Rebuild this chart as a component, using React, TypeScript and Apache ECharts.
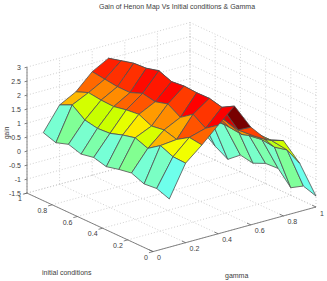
import React, { useEffect, useRef } from "react";
import * as echarts from "echarts";

const titleText = "Gain of Henon Map Vs Initial conditions & Gamma";
const gammaTicks = [0, 0.2, 0.4, 0.6, 0.8, 1];
const initTicks = [0, 0.2, 0.4, 0.6, 0.8, 1];
const gainTicks = [-1.5, -1, -0.5, 0, 0.5, 1, 1.5, 2, 2.5, 3];
const gammaValues = [0.1, 0.2, 0.3, 0.4, 0.5, 0.6, 0.7, 0.8, 0.9, 1];
const initValues = [0, 0.1, 0.2, 0.3, 0.4, 0.5, 0.6, 0.7, 0.8, 0.9, 1];

const gainAtGamma01 = [0.22, 0.385, 0.34, 0.52, 0.44, 0.33, 0.45, 0.36, 0.5, 0.35, 0.5];
const gainAtGamma02 = [1.34, 1.36, 1.55, 1.24, 1.41, 1.3, 1.15, 1.12, 1.21, 1.54, 1.33];
const gainAtGamma03 = [1.83, 1.89, 1.61, 1.74, 1.67, 1.88, 1.83, 1.74, 1.76, 1.82, 1.64];
const gainAtGamma04 = [2.38, 2.06, 2.35, 2.03, 2.3, 2.17, 2.26, 2.08, 2.08, 2.14, 2.2];
const gainAtGamma05 = [2.9, 2.65, 2.76, 2.75, 2.78, 2.73, 2.91, 2.79, 2.76, 2.64, 2.52];
const gainAtGamma06 = [1.99, 1.68, 1.8, 1.9, 1.85, 1.9, 1.8, 1.9, 1.8, 1.85, 1.8];
const gainAtGamma07 = [1.37, 1.3, 1.15, 1.2, 1.25, 1.2, 1.1, 1.2, 1.1, 1.2, 1.1];
const gainAtGamma08 = [1.19, 1.0, 1.0, 1.05, 1.1, 1.0, 1.1, 1.1, 1.0, 1.0, 1.0];
const gainAtGamma09 = [0.22, 0.49, 0.38, 0.44, 0.37, 0.45, 0.36, 0.28, 0.3, 0.4, 0.3];
const gainAtGamma10 = [-1.11, -0.96, -1.23, -0.75, -0.78, -0.98, -0.9, -1.26, -1.0, -0.67, -0.4];
const gainRows = [
  gainAtGamma01, gainAtGamma02, gainAtGamma03, gainAtGamma04, gainAtGamma05,
  gainAtGamma06, gainAtGamma07, gainAtGamma08, gainAtGamma09, gainAtGamma10,
];

const colorStops: [number, number[]][] = [
  [-1.3, [110, 255, 235]],
  [0.22, [110, 255, 235]],
  [0.35, [120, 255, 210]],
  [0.5, [128, 255, 150]],
  [1.1, [196, 255, 0]],
  [1.25, [216, 255, 0]],
  [1.35, [244, 255, 0]],
  [1.42, [255, 230, 0]],
  [1.55, [255, 180, 0]],
  [1.75, [255, 138, 0]],
  [1.85, [255, 90, 0]],
  [2.05, [255, 56, 0]],
  [2.2, [255, 16, 0]],
  [2.35, [255, 0, 0]],
  [2.65, [224, 0, 0]],
  [2.9, [120, 0, 0]],
];

function colorOf(z: number) {
  for (let i = 1; i < colorStops.length; i++) {
    const [z1, c1] = colorStops[i];
    const [z0, c0] = colorStops[i - 1];
    if (z <= z1) {
      const t = (z - z0) / (z1 - z0);
      return `rgb(${c0.map((c, n) => Math.round(c + (c1[n] - c) * t)).join(",")})`;
    }
  }
  return "rgb(120,0,0)";
}

// orthographic projection of the 3D axes box onto the page
function project(g: number, i: number, z: number): [number, number] {
  return [153 + 163 * g - 126 * i, 251.6 - 44.6 * g - 58.5 * i - 28 * (z + 1.5)];
}

const FONT = "Liberation Sans";
const GRID = "#c4c4c4";
const AXIS = "#666666";
const TEXT = "#3c3c3c";
const Z0 = gainTicks[0];
const Z1 = gainTicks[gainTicks.length - 1];

type Seg = [[number, number, number], [number, number, number]];
const gridSegs: Seg[] = [];
gammaTicks.forEach((g) => {
  gridSegs.push([[g, 0, Z0], [g, 1, Z0]]);
  gridSegs.push([[g, 1, Z0], [g, 1, Z1]]);
});
initTicks.forEach((i) => {
  gridSegs.push([[0, i, Z0], [1, i, Z0]]);
  gridSegs.push([[1, i, Z0], [1, i, Z1]]);
});
gainTicks.forEach((z) => {
  gridSegs.push([[0, 1, z], [1, 1, z]]);
  gridSegs.push([[1, 1, z], [1, 0, z]]);
});

const axisSegs: Seg[] = [
  [[0, 1, Z0], [0, 1, Z1]],
  [[0, 1, Z0], [0, 0, Z0]],
  [[0, 0, Z0], [1, 0, Z0]],
];
gainTicks.forEach((z) => axisSegs.push([[0, 1, z], [-0.015, 1, z]]));
initTicks.forEach((i) => axisSegs.push([[0, i, Z0], [-0.025, i, Z0]]));
gammaTicks.forEach((g) => axisSegs.push([[g, 0, Z0], [g, 0.03, Z0]]));

const faces: number[][] = [];
for (let j = gammaValues.length - 2; j >= 0; j--) {
  for (let k = initValues.length - 2; k >= 0; k--) faces.push([j, k]);
}

type Lab = { text: string; x: number; y: number; align: string };
const tickLabels: Lab[] = [];
gainTicks.forEach((z) => {
  const [x, y] = project(0, 1, z);
  tickLabels.push({ text: String(z), x: x - 6, y, align: "right" });
});
initTicks.forEach((i) => {
  const [x, y] = project(0, i, Z0);
  tickLabels.push({ text: String(i), x: x - 5, y: y + 5.5, align: "right" });
});
gammaTicks.forEach((g) => {
  const [x, y] = project(g, 0, Z0);
  tickLabels.push({ text: String(g), x: x + 4, y: y + 6, align: "left" });
});

const segRender = (segs: Seg[], color: string, dash: number[] | null, lw: number) => (_: any, api: any) => {
  const s = segs[api.value(0)];
  const a = project(s[0][0], s[0][1], s[0][2]);
  const b = project(s[1][0], s[1][1], s[1][2]);
  return {
    type: "line",
    shape: { x1: a[0], y1: a[1], x2: b[0], y2: b[1] },
    style: { stroke: color, lineWidth: lw, lineDash: dash || undefined, fill: null },
    silent: true,
  };
};

export default function App() {
  const ref = useRef<HTMLDivElement>(null);
  useEffect(() => {
    const chart = echarts.init(ref.current!, undefined, { renderer: "svg" });
    chart.setOption({
      animation: false,
      backgroundColor: "#fff",
      title: {
        text: titleText,
        left: 99,
        top: 3,
        padding: 0,
        textStyle: { fontFamily: FONT, fontSize: 7, fontWeight: "normal", color: TEXT },
      },
      series: [
        {
          type: "custom",
          coordinateSystem: "none",
          silent: true,
          z: 1,
          data: gridSegs.map((_, n) => [n]),
          renderItem: segRender(gridSegs, GRID, [1, 2], 0.8),
        },
        {
          type: "custom",
          coordinateSystem: "none",
          silent: true,
          z: 2,
          data: axisSegs.map((_, n) => [n]),
          renderItem: segRender(axisSegs, AXIS, null, 0.8),
        },
        {
          type: "custom",
          coordinateSystem: "none",
          silent: true,
          z: 3,
          data: faces,
          renderItem: (_: any, api: any) => {
            const j = api.value(0);
            const k = api.value(1);
            const corner = (a: number, b: number) => project(gammaValues[a], initValues[b], gainRows[a][b]);
            return {
              type: "polygon",
              shape: { points: [corner(j, k), corner(j + 1, k), corner(j + 1, k + 1), corner(j, k + 1)] },
              style: { fill: colorOf(gainRows[j][k]), stroke: "#505050", lineWidth: 0.8, lineJoin: "round" },
            };
          },
        },
        {
          type: "custom",
          coordinateSystem: "none",
          silent: true,
          z: 4,
          data: tickLabels.map((_, n) => [n]),
          renderItem: (_: any, api: any) => {
            const l = tickLabels[api.value(0)];
            return {
              type: "text",
              style: {
                text: l.text,
                x: l.x,
                y: l.y,
                align: l.align,
                verticalAlign: "middle",
                fontFamily: FONT,
                fontSize: 7,
                fill: TEXT,
              },
            };
          },
        },
      ],
      graphic: [
        { type: "text", x: 42, y: 269, style: { text: "initial conditions", fontFamily: FONT, fontSize: 7, fill: TEXT } },
        { type: "text", x: 225, y: 272, style: { text: "gamma", fontFamily: FONT, fontSize: 7, fill: TEXT } },
        { type: "text", x: 3, y: 139, rotation: Math.PI / 2, style: { text: "gain", fontFamily: FONT, fontSize: 6.5, fill: TEXT } },
      ],
    });
    return () => chart.dispose();
  }, []);
  return <div ref={ref} style={{ position: "absolute", left: 0, top: 0, width: 327, height: 281 }} />;
}
